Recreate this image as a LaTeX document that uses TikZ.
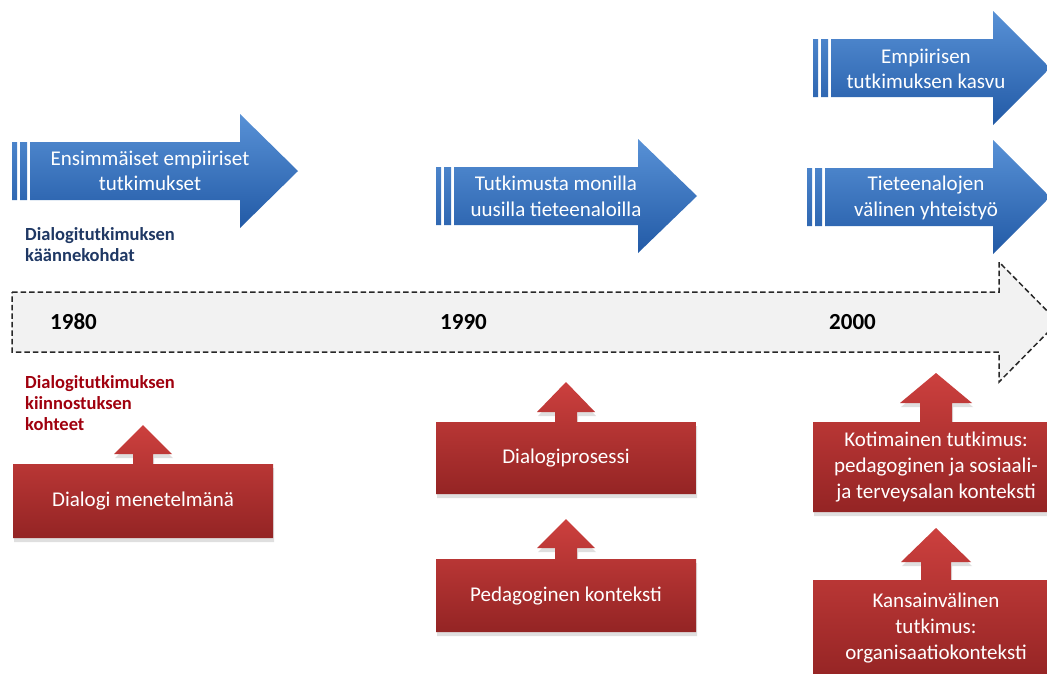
\documentclass[tikz,border=0pt]{standalone}
\usepackage{fontspec}
\setmainfont{Carlito}
\usetikzlibrary{shadows}

\definecolor{bluetop}{RGB}{88,145,214}
\definecolor{bluebot}{RGB}{34,90,166}
\definecolor{redtop}{RGB}{204,64,62}
\definecolor{redbot}{RGB}{148,36,36}
\definecolor{navylabel}{RGB}{31,56,100}
\definecolor{redlabel}{RGB}{160,0,14}
\definecolor{timefill}{RGB}{242,242,242}
\definecolor{timeline}{RGB}{40,40,40}

\tikzset{
  bluefill/.style={top color=bluetop, bottom color=bluebot, draw=none},
  redfill/.style={top color=redtop, bottom color=redbot, draw=none,
    drop shadow={opacity=0.25, shadow xshift=1pt, shadow yshift=-4pt}},
  shapetext/.style={text=white, align=center, inner sep=0pt,
    font=\fontsize{21}{25.6}\selectfont},
  yearlabel/.style={font=\bfseries\fontsize{23}{28}\selectfont,
    anchor=base west, inner sep=0pt},
  sidelabel/.style={font=\bfseries\fontsize{18.5}{21}\selectfont,
    align=left, anchor=west, inner sep=0pt},
  timebar/.style={fill=timefill, draw=timeline, line width=1.5pt,
    dash pattern=on 5.5pt off 3pt},
}

% striped block arrow: #1 left x, #2 head start x, #3 tip x, #4 centre y
\newcommand\bluebanner[4]{%
  \path[bluefill]
    (#1,#4-29) rectangle (#1+5,#4+29)
    (#1+8,#4-29) rectangle (#1+15,#4+29)
    (#1+18,#4-29) -- (#2,#4-29) -- (#2,#4-57) -- (#3,#4)
      -- (#2,#4+57) -- (#2,#4+29) -- (#1+18,#4+29) -- cycle;
}

% box with an up arrow on top: #1 left, #2 right, #3 top, #4 bottom,
% #5 arrow centre x, #6 tip y, #7 head base y, #8 head half width, #9 shaft half width
\newcommand\redcallout[9]{%
  \path[redfill]
    (#1,#3) -- (#5-#9,#3) -- (#5-#9,#7) -- (#5-#8,#7) -- (#5,#6)
    -- (#5+#8,#7) -- (#5+#9,#7) -- (#5+#9,#3) -- (#2,#3)
    -- (#2,#4) -- (#1,#4) -- cycle;
}

\begin{document}
\begin{tikzpicture}[x=1pt, y=-1pt]
  \useasboundingbox (0,0) rectangle (1047,673);
  \fill[white] (0,0) rectangle (1047,673);
  \clip (0,0) rectangle (1047,673);

  % turning points
  \bluebanner{12}{240}{298}{171}
  \bluebanner{436}{638}{697}{196}
  \bluebanner{813}{993}{1050}{68}
  \bluebanner{807}{993}{1050}{197}

  \node[shapetext] (first)   at (150,171) {Ensimmäiset empiiriset\\tutkimukset};
  \node[shapetext] (fields)  at (556,196) {Tutkimusta monilla\\uusilla tieteenaloilla};
  \node[shapetext] (growth)  at (926,69)  {Empiirisen\\tutkimuksen kasvu};
  \node[shapetext] (collab)  at (926,198) {Tieteenalojen\\välinen yhteistyö};

  \node[sidelabel, text=navylabel] (turnlabel) at (25,245)
    {Dialogitutkimuksen\\käännekohdat};

  % time line
  \path[timebar] (12,292) -- (999,292) -- (999,262) -- (1058,322)
    -- (999,382) -- (999,352) -- (12,352) -- cycle;
  \node[yearlabel] (y1980) at (50,329)  {1980};
  \node[yearlabel] (y1990) at (440,329) {1990};
  \node[yearlabel] (y2000) at (829,329) {2000};

  \node[sidelabel, text=redlabel] (focuslabel) at (25,403)
    {Dialogitutkimuksen\\kiinnostuksen\\kohteet};

  % objects of interest
  \redcallout{13}{273}{464}{538}{143}{425}{454}{29}{10}
  \redcallout{436}{696}{422}{494}{566}{382}{412}{29}{11}
  \redcallout{436}{696}{559}{632}{566}{519}{548}{29}{11}
  \redcallout{813}{1060}{422}{512}{936}{373}{403}{36}{16}
  \redcallout{813}{1060}{580}{680}{936}{528}{562}{35}{15}

  \node[shapetext] (method)   at (143,501) {Dialogi menetelmänä};
  \node[shapetext] (process)  at (566,458) {Dialogiprosessi};
  \node[shapetext] (pedctx)   at (566,596) {Pedagoginen konteksti};
  \node[shapetext] (domestic) at (936,467)
    {Kotimainen tutkimus:\\pedagoginen ja sosiaali-\\ja terveysalan konteksti};
  \node[shapetext] (intl)     at (936,628)
    {Kansainvälinen\\tutkimus:\\organisaatiokonteksti};
\end{tikzpicture}
\end{document}
